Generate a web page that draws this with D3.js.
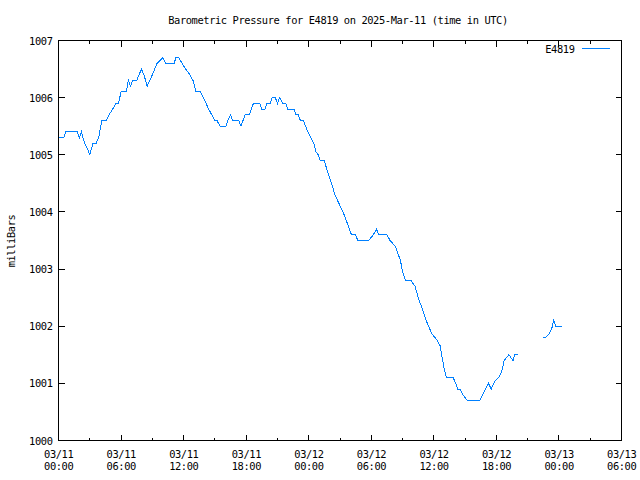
<!DOCTYPE html>
<html><head><meta charset="utf-8">
<script src="https://cdn.jsdelivr.net/npm/d3@7/dist/d3.min.js"></script>
<style>body{margin:0;background:#fff}svg{display:block}text{font-family:"DejaVu Sans Mono",monospace;font-size:10.4px;letter-spacing:-0.4px;fill:#000}</style>
</head><body>
<script>
const title = "Barometric Pressure for E4819 on 2025-Mar-11 (time in UTC)";
const seriesName = "E4819";
const yLabel = "milliBars";
const yTicks = [1000,1001,1002,1003,1004,1005,1006,1007];
// hours since 2025-03-11 00:00 UTC
const hours = [0,0.5,0.7,1.8,2.0,2.2,2.5,2.8,3.0,3.3,3.6,3.85,4.15,4.6,4.85,5.2,5.5,5.75,6.0,6.5,6.7,6.9,7.1,7.5,7.95,8.2,8.5,9.0,9.45,10.0,10.3,11.1,11.25,11.55,11.85,12.2,12.6,12.9,13.2,13.6,13.9,14.4,15.0,15.2,15.5,16.07,16.25,16.5,16.7,17.3,17.5,17.9,18.3,18.7,19.3,19.5,19.8,20.0,20.3,20.5,20.8,21.0,21.2,21.5,21.8,22.0,22.6,22.75,23.0,23.2,23.5,23.8,24.2,24.5,24.7,24.9,25.1,25.5,25.8,26.0,26.2,26.5,26.9,27.4,27.8,28.1,28.5,28.7,29.75,30.2,30.5,30.7,31.5,31.8,32.3,32.8,33.0,33.3,33.8,34.2,34.5,34.9,35.2,35.5,35.8,36.3,36.6,36.8,37.0,37.2,37.85,38.1,38.3,38.5,38.8,39.2,40.4,40.8,41.25,41.5,41.9,42.2,42.5,42.75,43.2,43.6,43.75,44.1,45.3,46.5,46.7,47.0,47.3,47.5,47.7,48.25];
const pressure = [1005.3,1005.3,1005.4,1005.4,1005.3,1005.4,1005.2,1005.1,1005.0,1005.2,1005.2,1005.3,1005.6,1005.6,1005.7,1005.8,1005.9,1005.9,1006.1,1006.1,1006.3,1006.2,1006.3,1006.3,1006.5,1006.4,1006.2,1006.4,1006.6,1006.7,1006.6,1006.6,1006.7,1006.7,1006.6,1006.5,1006.4,1006.3,1006.1,1006.1,1006.0,1005.8,1005.6,1005.6,1005.5,1005.5,1005.6,1005.7,1005.6,1005.6,1005.5,1005.7,1005.7,1005.9,1005.9,1005.8,1005.8,1005.9,1005.9,1006.0,1006.0,1005.9,1006.0,1005.9,1005.9,1005.8,1005.8,1005.7,1005.7,1005.6,1005.6,1005.45,1005.3,1005.2,1005.05,1005.0,1004.9,1004.9,1004.7,1004.6,1004.5,1004.3,1004.15,1003.95,1003.75,1003.6,1003.6,1003.5,1003.5,1003.6,1003.7,1003.6,1003.6,1003.5,1003.4,1003.15,1002.95,1002.8,1002.8,1002.7,1002.5,1002.3,1002.13,1002.0,1001.87,1001.76,1001.66,1001.45,1001.25,1001.1,1001.1,1001.0,1000.9,1000.9,1000.8,1000.7,1000.7,1000.85,1001.0,1000.9,1001.05,1001.1,1001.2,1001.4,1001.5,1001.4,1001.5,1001.5,null,1001.8,1001.8,1001.85,1001.95,1002.1,1002.0,1002.0];

const W=640,H=480, L=58.5,R=621.5,T=40.5,B=440.5;
const t0 = Date.UTC(2025,2,11,0,0);
const data = hours.map((h,i)=>({t:new Date(t0+h*3600e3), v:pressure[i]}));
const x = d3.scaleUtc().domain([new Date(t0), new Date(t0+54*3600e3)]).range([L,R]);
const y = d3.scaleLinear().domain([1000,1007]).range([B,T]);

const svg = d3.select("body").append("svg").attr("width",W).attr("height",H);
const majT = d3.utcHour.every(6).range(x.domain()[0], new Date(+x.domain()[1]+1));
const minT = d3.utcHour.every(3).range(x.domain()[0], new Date(+x.domain()[1]+1));
const g = svg.append("g").attr("shape-rendering","crispEdges").attr("stroke","#000").attr("stroke-width",1);
minT.forEach(d=>{
  const maj = d.getUTCHours()%6===0;
  const len = maj?6:3;
  const px = Math.round(x(d)-0.5)+0.5;
  g.append("line").attr("x1",px).attr("x2",px).attr("y1",B).attr("y2",B-len);
  g.append("line").attr("x1",px).attr("x2",px).attr("y1",T).attr("y2",T+len);
});
yTicks.forEach(v=>{
  const py = Math.round(y(v)-0.5)+0.5;
  g.append("line").attr("x1",L).attr("x2",L+6).attr("y1",py).attr("y2",py);
  g.append("line").attr("x1",R).attr("x2",R-6).attr("y1",py).attr("y2",py);
});
g.append("rect").attr("x",L).attr("y",T).attr("width",R-L).attr("height",B-T).attr("fill","none");

yTicks.forEach(v=>{
  svg.append("text").attr("x",52.5).attr("y",y(v)+4).attr("text-anchor","end").text(v);
});
const fmtD = d3.utcFormat("%m/%d"), fmtH = d3.utcFormat("%H:%M");
majT.forEach(d=>{
  svg.append("text").attr("x",x(d)+0.2).attr("y",458).attr("text-anchor","middle").text(fmtD(d));
  svg.append("text").attr("x",x(d)+0.2).attr("y",469.5).attr("text-anchor","middle").text(fmtH(d));
});
svg.append("text").attr("x",338).attr("y",23.5).attr("text-anchor","middle").text(title);
svg.append("text").attr("transform","translate(14.5,241) rotate(-90)").attr("text-anchor","middle").text(yLabel);

const color = "#0080ff";
const line = d3.line().defined(d=>d.v!==null).x(d=>x(d.t)).y(d=>y(d.v));
svg.append("path").datum(data).attr("d",line).attr("fill","none").attr("stroke",color).attr("stroke-width",1).attr("shape-rendering","crispEdges");

svg.append("text").attr("x",574.5).attr("y",52.5).attr("text-anchor","end").text(seriesName);
svg.append("line").attr("x1",582).attr("x2",610).attr("y1",48.5).attr("y2",48.5).attr("stroke",color).attr("shape-rendering","crispEdges");
</script>
</body></html>
